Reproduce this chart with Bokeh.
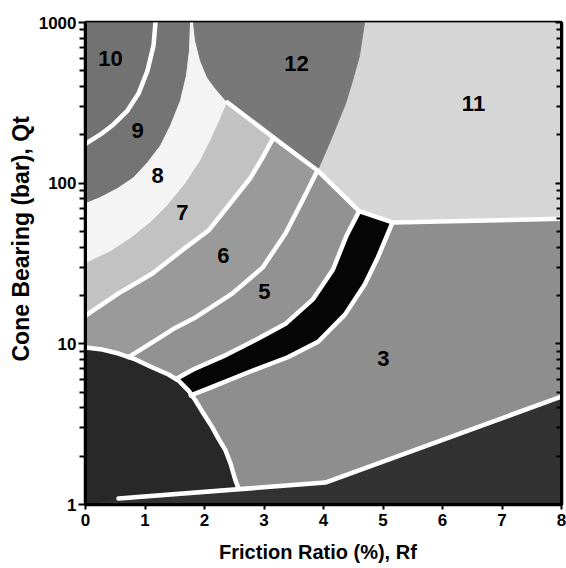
from bokeh.plotting import figure
from bokeh.models import Range1d, FixedTicker, NumeralTickFormatter, LogAxis, Title
from bokeh.core.properties import value
from bokeh.embed import file_html
from bokeh.resources import INLINE

# ---------------- data (Rf in %, Qt in bar) ----------------
# boundary 10 / 9
b10_9_rf = [1.176, 1.143, 1.042, 0.891, 0.706, 0.471, 0.252, 0.0]
b10_9_qt = [1000, 718, 502, 361, 283, 232, 201, 176]
# boundary 9 / 8
b9_8_rf = [1.765, 1.748, 1.697, 1.597, 1.429, 1.261, 1.042, 0.807, 0.538, 0.252, 0.0]
b9_8_qt = [1000, 668, 467, 326, 228, 171, 134, 108, 92.5, 81.4, 74.7]
# left edge of zone 12 (against 8)
b12_rf = [1.815, 1.849, 1.933, 2.05, 2.185, 2.387]
b12_qt = [1000, 771, 579, 454, 388, 318]
# lower-left edge of zone 12 (straight line)
diag12_rf = [2.387, 3.16, 3.899]
diag12_qt = [318, 192, 120]
# boundary 8 / 7
b8_7_rf = [2.387, 2.269, 2.101, 1.933, 1.681, 1.378, 1.092, 0.756, 0.420, 0.0]
b8_7_qt = [318, 252, 184, 138, 99.4, 72.5, 56.9, 45.2, 37.5, 31.6]
# boundary 7 / 6
b7_6_rf = [3.16, 2.975, 2.773, 2.471, 2.067, 1.681, 1.126, 0.555, 0.0]
b7_6_qt = [192, 144, 108, 78, 50.7, 39.7, 27.4, 20.6, 15.0]
# boundary 6 / 5
b6_5_rf = [3.899, 3.647, 3.361, 2.975, 2.471, 1.849, 1.513, 1.176, 0.723]
b6_5_qt = [120, 78, 48.6, 29.8, 20.6, 14.6, 12.6, 10.5, 8.27]
# boundary 5 / 4 (top of black band)
b5_4_rf = [4.60, 4.38, 4.16, 3.82, 3.37, 2.865, 2.31, 1.81, 1.52]
b5_4_qt = [67, 46.5, 29.0, 18.9, 13.4, 10.6, 8.35, 6.92, 6.05]
# boundary 4 / 3 (bottom of black band)
b4_3_rf = [5.16, 4.915, 4.695, 4.36, 3.91, 3.40, 2.78, 2.11, 1.77]
b4_3_qt = [57, 34.6, 23.5, 15.2, 10.3, 8.25, 6.75, 5.36, 4.78]
# boundary 12 / 11
b11_rf = [4.689, 4.605, 4.488, 4.37, 4.118, 3.899]
b11_qt = [1000, 622, 435, 313, 184, 120]
# lower edge of zone 11
b11_low_rf = [3.899, 4.60, 5.16, 8.0]
b11_low_qt = [120, 67, 57, 60]
# top of zone 2 (organic)
b2_rf = [0.0, 0.286, 0.555, 0.840, 1.126, 1.395, 1.563, 1.731, 1.849, 1.983, 2.134,
         2.235, 2.353, 2.437, 2.521, 2.571]
b2_qt = [9.48, 9.21, 8.70, 7.99, 7.12, 6.44, 5.91, 5.12, 4.44, 3.68, 3.01,
         2.57, 2.17, 1.80, 1.41, 1.26]
# top of zone 1 (sensitive fine grained)
b1_rf = [0.555, 4.03, 8.0]
b1_qt = [1.09, 1.37, 4.7]

# zone labels
zone_names = ["10", "9", "8", "7", "6", "5", "3", "11", "12"]
zone_rf = [0.42, 0.874, 1.21, 1.63, 2.319, 3.008, 5.008, 6.521, 3.546]
zone_qt = [596, 212, 111, 65.6, 35.4, 21.2, 8.1, 313, 555]

x_ticks = [0, 1, 2, 3, 4, 5, 6, 7, 8]
y_ticks = [1, 10, 100, 1000]
y_minor = [m * d for d in (1, 10, 100) for m in range(2, 10)]

# ---------------- build zone polygons from the boundaries ----------------
def rev(a):
    return list(a)[::-1]

def poly(*parts):
    xs, ys = [], []
    for rf, qt in parts:
        xs += list(rf)
        ys += list(qt)
    return xs, ys

zones = [
    (poly(([0], [1000]), (b10_9_rf, b10_9_qt)), "#727272"),                                   # 10
    (poly((b10_9_rf, b10_9_qt), (rev(b9_8_rf), rev(b9_8_qt))), "#747474"),                     # 9
    (poly((b9_8_rf, b9_8_qt), (rev(b8_7_rf), rev(b8_7_qt)), (rev(b12_rf), rev(b12_qt))), "#f4f4f4"),  # 8
    (poly((b8_7_rf, b8_7_qt), (rev(b7_6_rf), rev(b7_6_qt))), "#c2c2c2"),                       # 7
    (poly((b7_6_rf, b7_6_qt), (b2_rf[:3], b2_qt[:3]), (rev(b6_5_rf), rev(b6_5_qt))), "#9a9a9a"),  # 6
    (poly((b6_5_rf, b6_5_qt), (b2_rf[3:6], b2_qt[3:6]), (rev(b5_4_rf), rev(b5_4_qt))), "#929292"),  # 5
    (poly((b5_4_rf, b5_4_qt), (rev(b4_3_rf), rev(b4_3_qt))), "#050505"),                        # 4
    (poly((b4_3_rf, b4_3_qt), (b2_rf[8:], b2_qt[8:]), (b1_rf[1:], b1_qt[1:]),
          (b11_low_rf[-1:], b11_low_qt[-1:])), "#8e8e8e"),                                       # 3
    (poly(([8], [1000]), (rev(b11_low_rf), rev(b11_low_qt)), (rev(b11_rf), rev(b11_qt))), "#d6d6d6"),  # 11
    (poly((b12_rf, b12_qt), (diag12_rf[1:], diag12_qt[1:]), (rev(b11_rf)[1:], rev(b11_qt)[1:])), "#787878"),  # 12
    (poly(([0], [1]), (b1_rf, b1_qt), ([8], [1])), "#323232"),                                  # 1
    (poly(([0], [1]), (b2_rf, b2_qt), (b1_rf[:1], b1_qt[:1])), "#282828"),                      # 2
]

white_lines = [
    (b10_9_rf, b10_9_qt), (b7_6_rf, b7_6_qt), (b6_5_rf, b6_5_qt),
    (b5_4_rf, b5_4_qt), (b4_3_rf, b4_3_qt), (b2_rf, b2_qt), (b1_rf, b1_qt),
    (list(diag12_rf) + list(b11_low_rf[1:]), list(diag12_qt) + list(b11_low_qt[1:])),
]

# ---------------- figure ----------------
p = figure(width=566, height=568, y_axis_type="log",
           x_range=Range1d(0, 8), y_range=Range1d(1, 1000),
           output_backend="svg", toolbar_location=None,
           min_border_left=85, min_border_right=5, min_border_top=22, min_border_bottom=64)
p.grid.visible = False
p.background_fill_color = "white"
p.border_fill_color = "white"
p.outline_line_color = "black"
p.outline_line_width = 3.5

p.patches([z[0][0] for z in zones], [z[0][1] for z in zones],
          fill_color=[z[1] for z in zones], line_color=[z[1] for z in zones], line_width=1)

p.multi_line([w[0] for w in white_lines], [w[1] for w in white_lines],
             line_color="white", line_width=4.5, line_join="round", line_cap="round")

p.text(zone_rf, zone_qt, text=zone_names, text_align="center", text_baseline="middle",
       text_font=value("Liberation Sans"), text_font_style="bold", text_font_size="22px",
       text_color="black")

font = "Liberation Sans"
p.xaxis.ticker = FixedTicker(ticks=x_ticks)
p.yaxis.ticker = FixedTicker(ticks=y_ticks, minor_ticks=y_minor)
p.yaxis.formatter = NumeralTickFormatter(format="0")
for ax in (p.xaxis[0], p.yaxis[0]):
    ax.axis_line_width = 3
    ax.axis_line_color = "black"
    ax.major_tick_line_width = 2
    ax.minor_tick_line_width = 2
    ax.major_tick_in = 0
    ax.minor_tick_in = 0
    ax.major_label_text_font = font
    ax.major_label_text_font_style = "bold"
    ax.major_label_text_font_size = "17px"
    ax.major_label_text_color = "black"
    ax.axis_label_text_font = font
    ax.axis_label_text_font_style = "bold"
    ax.axis_label_text_font_size = "20px"
    ax.axis_label_text_color = "black"
p.xaxis.major_tick_out = 5
p.xaxis.minor_tick_out = 0
p.xaxis.major_label_standoff = 4
p.xaxis.axis_label_standoff = 12
p.yaxis.major_tick_out = 7
p.yaxis.minor_tick_out = 6
p.yaxis.major_label_standoff = 2
p.xaxis.axis_label = "Friction Ratio  (%),  Rf"

# y-axis title as a side title, started higher up like in the reference
p.add_layout(Title(text="Cone Bearing (bar), Qt", align="left", offset=143,
                   text_font=font, text_font_style="bold", text_font_size="23px",
                   text_color="black", standoff=4), "left")

ra = LogAxis(ticker=FixedTicker(ticks=y_ticks, minor_ticks=y_minor),
             major_label_text_font_size="1px", major_label_text_alpha=0,
             major_label_standoff=0,
             major_tick_in=6, major_tick_out=0, minor_tick_in=5, minor_tick_out=0,
             major_tick_line_width=2, minor_tick_line_width=2, axis_line_width=3)
p.add_layout(ra, "right")

open("out.html", "w").write(file_html(p, INLINE))
